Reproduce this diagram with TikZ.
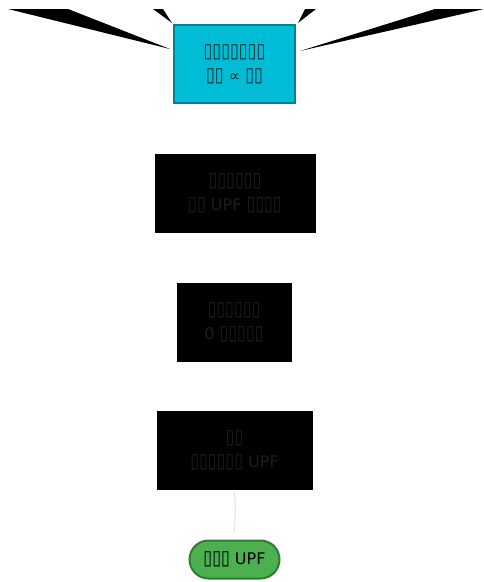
\documentclass[tikz,border=0pt]{standalone}
\usepackage{fontspec}
\setmainfont{DejaVu Sans}
\definecolor{cyanfill}{HTML}{00BCD4}
\definecolor{cyandraw}{HTML}{00838F}
\definecolor{greenfill}{HTML}{4CAF50}
\definecolor{greendraw}{HTML}{2E7D32}
\definecolor{dimtext}{HTML}{1E1E1E}
\definecolor{toptext}{HTML}{0D2F33}
\definecolor{linkgray}{HTML}{D8D8D8}
\newcommand{\tf}{\scalebox{1.0}[1.25]{▯}}
\begin{document}
\begin{tikzpicture}[x=1pt,y=-1pt,
  every node/.style={font=\fontsize{16}{24}\selectfont, align=center, inner sep=0pt},
  topbox/.style={draw=cyandraw, fill=cyanfill, line width=1.2pt, text=toptext, minimum width=121pt, minimum height=78pt},
  darkbox/.style={draw=black, fill=black, text=dimtext, minimum height=78pt},
  pill/.style={draw=greendraw, fill=greenfill, line width=2pt, rounded corners=19pt, minimum width=90pt, minimum height=38pt, text=black},
  wedge/.style={fill=black, draw=none},
  link/.style={draw=linkgray, line width=0.8pt}]
\useasboundingbox (0,0) rectangle (484,582);
\node[topbox] (t) at (234.5,64) {\tf\tf\tf\tf\tf\tf\tf\\\tf\tf{} ∝ \tf\tf};
\node[darkbox, minimum width=160pt] (b2) at (235,193) {\tf\tf\tf\tf\tf\tf\\\tf\tf{} UPF \tf\tf\tf\tf};
\node[darkbox, minimum width=114pt] (b3) at (234,322) {\tf\tf\tf\tf\tf\tf\\0 \tf\tf\tf\tf\tf};
\node[darkbox, minimum width=155pt] (b4) at (234.5,450) {\tf\tf\\\tf\tf\tf\tf\tf\tf{} UPF};
\node[pill] (p) at (234.5,559.5) {\tf\tf\tf{} UPF};
\coordinate (l1a) at (8,9); \coordinate (l1b) at (68,9);
\coordinate (l2a) at (153,9); \coordinate (l2b) at (163,9);
\coordinate (r1a) at (305,9); \coordinate (r1b) at (316,9);
\coordinate (r2a) at (435,9); \coordinate (r2b) at (484,9);
\coordinate (tipl1) at (170,49);
\coordinate (tipl2) at (172,23);
\coordinate (tipr1) at (298,23);
\coordinate (tipr2) at (300,51);
\fill[wedge] (l1a) -- (l1b) -- (tipl1) -- cycle;
\fill[wedge] (l2a) -- (l2b) -- (tipl2) -- cycle;
\fill[wedge] (r1a) -- (r1b) -- (tipr1) -- cycle;
\fill[wedge] (r2a) -- (r2b) -- (tipr2) -- cycle;
\draw[link] ([yshift=-3pt]b4.south) .. controls ([xshift=1pt,yshift=-20pt]b4.south) .. ([yshift=8pt]p.north);
\end{tikzpicture}
\end{document}
